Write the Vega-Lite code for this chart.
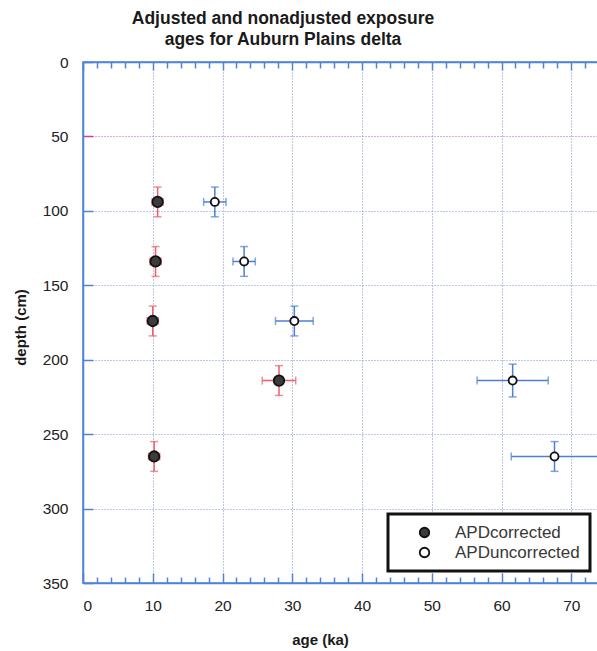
{
  "$schema": "https://vega.github.io/schema/vega-lite/v6.json",
  "autosize": {"type": "none"},
  "width": 558,
  "height": 521,
  "padding": {"left": 83, "top": 62, "right": 0, "bottom": 68},
  "background": "white",
  "title": {
    "text": ["Adjusted and nonadjusted exposure", "ages for Auburn Plains delta"],
    "font": "Liberation Sans",
    "fontSize": 17.5,
    "fontWeight": "bold",
    "color": "#1a1a1a",
    "anchor": "middle",
    "frame": "group",
    "dx": -79,
    "offset": 7,
    "lineHeight": 21
  },
  "config": {
    "view": {"stroke": "#4f82d8", "strokeWidth": 1.5},
    "legend": {"strokeColor": "#111111", "strokeWidth": 3, "fillColor": "white"},
    "axis": {
      "labelFont": "Liberation Sans",
      "labelFontSize": 15.5,
      "labelColor": "#222222",
      "titleFont": "Liberation Sans",
      "titleFontSize": 15,
      "titleFontWeight": "bold",
      "titleColor": "#1a1a1a",
      "domainColor": "#4f82d8",
      "domainWidth": 1.5,
      "tickColor": "#4f82d8",
      "tickWidth": 1.5,
      "gridColor": "#7f8fcc",
      "gridDash": [1, 2],
      "gridWidth": 1
    }
  },
  "data": {
    "values": [
      {"series": "APDcorrected", "age": 10.7, "depth": 94, "age_lo": 9.9, "age_hi": 11.5, "depth_lo": 84, "depth_hi": 104},
      {"series": "APDcorrected", "age": 10.4, "depth": 134, "age_lo": 9.6, "age_hi": 11.2, "depth_lo": 124, "depth_hi": 144},
      {"series": "APDcorrected", "age": 10.0, "depth": 174, "age_lo": 9.2, "age_hi": 10.8, "depth_lo": 164, "depth_hi": 184},
      {"series": "APDcorrected", "age": 28.1, "depth": 214, "age_lo": 25.7, "age_hi": 30.5, "depth_lo": 204, "depth_hi": 224},
      {"series": "APDcorrected", "age": 10.2, "depth": 265, "age_lo": 9.4, "age_hi": 11.0, "depth_lo": 255, "depth_hi": 275},
      {"series": "APDuncorrected", "age": 18.9, "depth": 94, "age_lo": 17.3, "age_hi": 20.5, "depth_lo": 84, "depth_hi": 104},
      {"series": "APDuncorrected", "age": 23.1, "depth": 134, "age_lo": 21.5, "age_hi": 24.7, "depth_lo": 124, "depth_hi": 144},
      {"series": "APDuncorrected", "age": 30.3, "depth": 174, "age_lo": 27.6, "age_hi": 33.0, "depth_lo": 164, "depth_hi": 184},
      {"series": "APDuncorrected", "age": 61.6, "depth": 214, "age_lo": 56.5, "age_hi": 66.7, "depth_lo": 203, "depth_hi": 225},
      {"series": "APDuncorrected", "age": 67.6, "depth": 265, "age_lo": 61.4, "age_hi": 73.8, "depth_lo": 255, "depth_hi": 275}
    ]
  },
  "resolve": {"axis": {"x": "independent"}},
  "layer": [
    {
      "mark": {"type": "rule", "strokeWidth": 1.5},
      "encoding": {
        "x": {"field": "age", "type": "quantitative", "title": "age (ka)",
          "scale": {"domain": [0, 80], "nice": false, "zero": false},
          "axis": {
            "orient": "bottom",
            "values": [0,2,4,6,8,10,12,14,16,18,20,22,24,26,28,30,32,34,36,38,40,42,44,46,48,50,52,54,56,58,60,62,64,66,68,70,72,74,76,78,80],
            "labelExpr": "datum.value % 10 === 0 && datum.value < 80 ? datum.label : ''",
            "tickSize": {"condition": {"test": "datum.value % 10 === 0", "value": -10}, "value": -6},
            "gridOpacity": {"condition": {"test": "datum.value % 10 === 0 && datum.value > 0", "value": 1}, "value": 0},
            "grid": true,
            "labelPadding": 25,
            "titleX": 237,
            "titleY": 56,
            "titleBaseline": "middle"
          }},
        "y": {"field": "depth_lo", "type": "quantitative", "title": "depth (cm)",
          "scale": {"domain": [0, 350], "reverse": true, "nice": false, "zero": false},
          "axis": {
            "values": [0, 50, 100, 150, 200, 250, 300, 350],
            "tickSize": -10,
            "tickColor": {"condition": {"test": "datum.value === 50", "value": "#c8409c"}, "value": "#4f82d8"},
            "gridColor": {"condition": {"test": "datum.value === 50", "value": "#b45cb0"}, "value": "#7f8fcc"},
            "gridOpacity": {"condition": {"test": "datum.value === 0 || datum.value === 350", "value": 0}, "value": 1},
            "grid": true,
            "labelPadding": 25,
            "titleY": 265,
            "titleX": -63,
            "titleBaseline": "middle"
          }},
        "y2": {"field": "depth_hi"},
        "color": {"condition": {"test": "datum.series === 'APDcorrected'", "value": "#ef5d68"}, "value": "#4c7fd6"}
      }
    },
    {
      "mark": {"type": "rule", "strokeWidth": 1.5},
      "encoding": {
        "x": {"field": "age_lo", "type": "quantitative", "title": "age (ka)",
          "axis": {
            "orient": "top",
            "values": [0,2,4,6,8,10,12,14,16,18,20,22,24,26,28,30,32,34,36,38,40,42,44,46,48,50,52,54,56,58,60,62,64,66,68,70,72,74,76,78,80],
            "labels": false,
            "title": null,
            "grid": false,
            "tickSize": {"condition": {"test": "datum.value % 10 === 0", "value": -8}, "value": -6}
          }},
        "x2": {"field": "age_hi"},
        "y": {"field": "depth", "type": "quantitative", "title": "depth (cm)"},
        "color": {"condition": {"test": "datum.series === 'APDcorrected'", "value": "#ef5d68"}, "value": "#4c7fd6"}
      }
    },
    {
      "mark": {"type": "tick", "orient": "horizontal", "size": 8, "thickness": 1.5},
      "encoding": {
        "x": {"field": "age", "type": "quantitative", "axis": null},
        "y": {"field": "depth_lo", "type": "quantitative", "title": "depth (cm)"},
        "color": {"condition": {"test": "datum.series === 'APDcorrected'", "value": "#ef5d68"}, "value": "#4c7fd6"}
      }
    },
    {
      "mark": {"type": "tick", "orient": "horizontal", "size": 8, "thickness": 1.5},
      "encoding": {
        "x": {"field": "age", "type": "quantitative", "axis": null},
        "y": {"field": "depth_hi", "type": "quantitative", "title": "depth (cm)"},
        "color": {"condition": {"test": "datum.series === 'APDcorrected'", "value": "#ef5d68"}, "value": "#4c7fd6"}
      }
    },
    {
      "mark": {"type": "tick", "orient": "vertical", "size": 8, "thickness": 1.5},
      "encoding": {
        "x": {"field": "age_lo", "type": "quantitative", "axis": null},
        "y": {"field": "depth", "type": "quantitative", "title": "depth (cm)"},
        "color": {"condition": {"test": "datum.series === 'APDcorrected'", "value": "#ef5d68"}, "value": "#4c7fd6"}
      }
    },
    {
      "mark": {"type": "tick", "orient": "vertical", "size": 8, "thickness": 1.5},
      "encoding": {
        "x": {"field": "age_hi", "type": "quantitative", "axis": null},
        "y": {"field": "depth", "type": "quantitative", "title": "depth (cm)"},
        "color": {"condition": {"test": "datum.series === 'APDcorrected'", "value": "#ef5d68"}, "value": "#4c7fd6"}
      }
    },
    {
      "mark": {"type": "point", "filled": true, "opacity": 1, "stroke": "#111111", "strokeWidth": 1.8},
      "encoding": {
        "x": {"field": "age", "type": "quantitative", "axis": null},
        "y": {"field": "depth", "type": "quantitative", "title": "depth (cm)"},
        "fill": {"field": "series", "type": "nominal",
          "scale": {"domain": ["APDcorrected", "APDuncorrected"], "range": ["#3c3c3c", "#ffffff"]},
          "legend": {
            "title": null,
            "orient": "none",
            "legendX": 305,
            "legendY": 452,
            "padding": 10,
            "symbolOffset": 18,
            "labelOffset": 22,
            "labelFont": "Liberation Sans",
            "labelFontSize": 17,
            "labelColor": "#383838",
            "symbolStrokeColor": "#111111",
            "symbolStrokeWidth": 1.8,
            "symbolSize": 90,
            "rowPadding": 2
          }},
        "size": {"condition": {"test": "datum.series === 'APDcorrected'", "value": 110}, "value": 65}
      }
    }
  ]
}
